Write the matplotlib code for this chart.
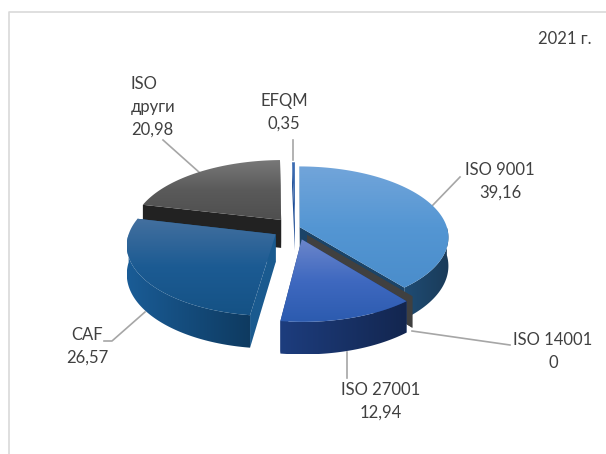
# 3D looking exploded pie chart of certificates, 2021
import numpy as np
import matplotlib.pyplot as plt
from matplotlib.colors import LinearSegmentedColormap
from matplotlib.patches import Polygon

labels = ['ISO 9001', 'ISO 14001', 'ISO 27001', 'CAF', 'ISO\nдруги', 'EFQM']
values = [39.16, 0, 12.94, 26.57, 20.98, 0.35]
value_text = ['39,16', '0', '12,94', '26,57', '20,98', '0,35']
year_text = '2021 г.'

# how far each slice is pulled out, as a share of the radius
explode = [0.035, 0.13, 0.17, 0.16, 0.15, 0.08]

# colours: top gradient (back to front), side gradient (left to right), cut wall
top_colors = [['#72A5DA', '#5496D3', '#4A8DCB'], ['#404040', '#404040'],
              ['#6C86CB', '#3F69C0', '#2C5BAF'], ['#44709F', '#1C5B93', '#155285'],
              ['#787878', '#5A5A5A', '#4F4F4F'], ['#3F6FB5', '#1F4E96']]
side_colors = [['#1F4C74', '#1A3B59'], ['#404040', '#404040'], ['#1D3D7E', '#13264F'],
               ['#1A5C96', '#0E3A60'], ['#2A2A2A', '#1E1E1E'], ['#1F4E96', '#153A70']]
wall_colors = ['#1B4468', '#404040', '#1D3D7E', '#1A5A8F', '#222222', '#1F4E96']

# projection of the tilted disc
cx, cy = 295, 228
radius = 147
tilt = 0.472
persp = 0.14
depth = 28

text_color = '#404040'
line_color = '#A6A6A6'
frame_color = '#D9D9D9'

plt.rcParams['font.family'] = ['Lato', 'Open Sans', 'DejaVu Sans']

fig = plt.figure(figsize=(6.06, 4.54), dpi=100)
ax = fig.add_axes([0, 0, 1, 1])


def project(angle, r, ex, ey, drop=0.0):
    # angle in degrees clockwise from 12 o'clock, r as share of radius
    a = np.radians(angle)
    x = r * np.sin(a)
    y = -r * np.cos(a)
    p = 1 / (1 - persp * y)
    sx = cx + radius * (x + ex) * p
    sy = cy + radius * tilt * (y + ey) * p + depth * p * drop
    return np.column_stack([sx, sy])


def gradient_fill(points, colors, vertical, z):
    cmap = LinearSegmentedColormap.from_list('g', colors)
    ramp = cmap(np.linspace(0, 1, 256))
    img = ramp[:, None, :] if vertical else ramp[None, :, :]
    x0, y0 = points.min(axis=0)
    x1, y1 = points.max(axis=0)
    im = ax.imshow(img, extent=(x0, x1, y1, y0), origin='upper', aspect='auto',
                   interpolation='bilinear', zorder=z)
    poly = Polygon(points, closed=True, transform=ax.transData)
    im.set_clip_path(poly)


def draw_wall(angle, ex, ey, color, z):
    rim = project(angle, 1, ex, ey)
    rim_low = project(angle, 1, ex, ey, 1)
    apex = project(angle, 0, ex, ey)
    apex_low = project(angle, 0, ex, ey, 1)
    pts = np.vstack([apex, rim, rim_low, apex_low])
    ax.add_patch(Polygon(pts, closed=True, facecolor=color, edgecolor='none', zorder=z))


# paint order: back slices first, front slices last
paint_order = [4, 5, 0, 1, 3, 2]
shares = np.array(values) / np.sum(values) * 360
starts = np.concatenate([[0], np.cumsum(shares)[:-1]])

z = 2
for i in paint_order:
    a0, a1 = starts[i], starts[i] + shares[i]
    mid = np.radians((a0 + a1) / 2)
    ex, ey = explode[i] * np.sin(mid), -explode[i] * np.cos(mid)

    # cut walls
    draw_wall(a0, ex, ey, wall_colors[i], z)
    draw_wall(a1, ex, ey, wall_colors[i], z + 0.1)

    # outer side, only the part that faces the viewer
    s0, s1 = max(a0, 90), min(a1, 270)
    if s1 > s0:
        arc = np.linspace(s0, s1, 120)
        upper = project(arc, 1, ex, ey)
        lower = project(arc, 1, ex, ey, 1)
        gradient_fill(np.vstack([upper, lower[::-1]]), side_colors[i], False, z + 0.2)

    # top face
    if shares[i] > 0:
        arc = np.linspace(a0, a1, 200)
        pts = np.vstack([project(0, 0, ex, ey), project(arc, 1, ex, ey)])
        gradient_fill(pts, top_colors[i], True, z + 0.3)
    z += 1

# chart frame, only left and top lines show in the crop
ax.plot([9, 9, 606], [454, 12, 12], color=frame_color, lw=1.2, zorder=1)

# leader lines
leaders = [[(460, 177), (432, 206)], [(412, 331), (510, 345)], [(347, 352), (347, 378)],
           [(145, 312), (112, 341), (104, 341)], [(163, 140), (200, 173)], [(293, 140), (293, 160)]]
for pts in leaders:
    xs, ys = zip(*pts)
    ax.plot(xs, ys, color=line_color, lw=1.2, zorder=1)

# data labels, the "ISO други" block is left aligned in the reference
label_pos = [(500, 170), (553, 340), (381, 390), (87, 335), (131, 84), (284, 101)]
label_ha = ['center', 'center', 'center', 'center', 'left', 'center']
font_size = 12
line_gap = 23
for i, (x, y) in enumerate(label_pos):
    lines = labels[i].split('\n') + [value_text[i]]
    for k, line in enumerate(lines):
        ax.text(x, y + k * line_gap, line, ha=label_ha[i], va='center',
                fontsize=font_size, color=text_color, zorder=20)

ax.text(565, 39, year_text, ha='center', va='center', fontsize=font_size, color=text_color)

ax.set_xlim(0, 606)
ax.set_ylim(454, 0)
ax.axis('off')

fig.savefig('out.png', dpi=100)
